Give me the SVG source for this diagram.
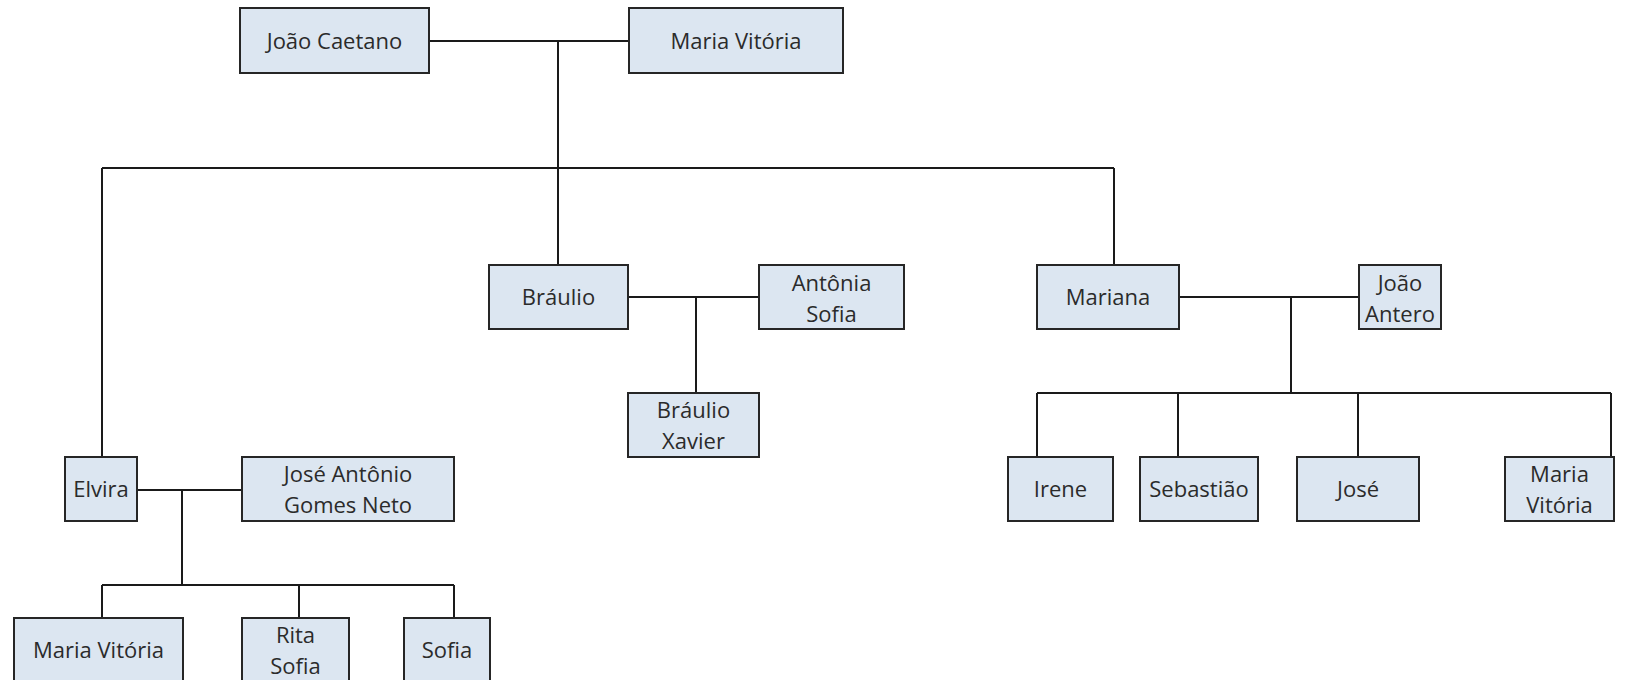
<svg xmlns="http://www.w3.org/2000/svg" width="1643" height="680" viewBox="0 0 1643 680">
<style>
.box{fill:#dce6f1;stroke:#262626;stroke-width:2}
.t{font-family:"Open Sans","Noto Sans","DejaVu Sans",sans-serif;font-size:22px;fill:#2b2b2b;text-anchor:middle;dominant-baseline:central}
.c{fill:none;stroke:#1a1a1a;stroke-width:2}
</style>
<rect width="1643" height="680" fill="#fff"/>
<g id="connectors">
<path class="c" d="M429,41 H629 M558,41 V168 M102,168 H1114 M102,168 V457 M558,168 V265 M1114,168 V265"/>
<path class="c" d="M137,490 H242 M182,490 V585 M102,585 H454 M102,585 V618 M299,585 V618 M454,585 V618"/>
<path class="c" d="M628,297 H759 M696,297 V393"/>
<path class="c" d="M1179,297 H1359 M1291,297 V393 M1037,393 H1611 M1037,393 V457 M1178,393 V457 M1358,393 V457 M1611,393 V457"/>
</g>
<g id="joao_caetano"><rect class="box" x="240" y="8" width="189" height="65"/><text class="t" x="334.5" y="40">João Caetano</text></g>
<g id="maria_vitoria_1"><rect class="box" x="629" y="8" width="214" height="65"/><text class="t" x="736" y="40">Maria Vitória</text></g>
<g id="braulio"><rect class="box" x="489" y="265" width="139" height="64"/><text class="t" x="558.5" y="296">Bráulio</text></g>
<g id="antonia_sofia"><rect class="box" x="759" y="265" width="145" height="64"/><text class="t" x="831.5" y="282">Antônia</text><text class="t" x="831.5" y="313">Sofia</text></g>
<g id="braulio_xavier"><rect class="box" x="628" y="393" width="131" height="64"/><text class="t" x="693.5" y="409">Bráulio</text><text class="t" x="693.5" y="440">Xavier</text></g>
<g id="mariana"><rect class="box" x="1037" y="265" width="142" height="64"/><text class="t" x="1108" y="296">Mariana</text></g>
<g id="joao_antero"><rect class="box" x="1359" y="265" width="82" height="64"/><text class="t" x="1400" y="282">João</text><text class="t" x="1400" y="313">Antero</text></g>
<g id="irene"><rect class="box" x="1008" y="457" width="105" height="64"/><text class="t" x="1060.5" y="488">Irene</text></g>
<g id="sebastiao"><rect class="box" x="1140" y="457" width="118" height="64"/><text class="t" x="1199" y="488">Sebastião</text></g>
<g id="jose"><rect class="box" x="1297" y="457" width="122" height="64"/><text class="t" x="1358" y="488">José</text></g>
<g id="maria_vitoria_2"><rect class="box" x="1505" y="457" width="109" height="64"/><text class="t" x="1559.5" y="473">Maria</text><text class="t" x="1559.5" y="504">Vitória</text></g>
<g id="elvira"><rect class="box" x="65" y="457" width="72" height="64"/><text class="t" x="101" y="488">Elvira</text></g>
<g id="jose_antonio"><rect class="box" x="242" y="457" width="212" height="64"/><text class="t" x="348" y="473">José Antônio</text><text class="t" x="348" y="504">Gomes Neto</text></g>
<g id="maria_vitoria_3"><rect class="box" x="14" y="618" width="169" height="64"/><text class="t" x="98.5" y="649">Maria Vitória</text></g>
<g id="rita_sofia"><rect class="box" x="242" y="618" width="107" height="64"/><text class="t" x="295.5" y="634">Rita</text><text class="t" x="295.5" y="665">Sofia</text></g>
<g id="sofia"><rect class="box" x="404" y="618" width="86" height="64"/><text class="t" x="447" y="649">Sofia</text></g>
</svg>
